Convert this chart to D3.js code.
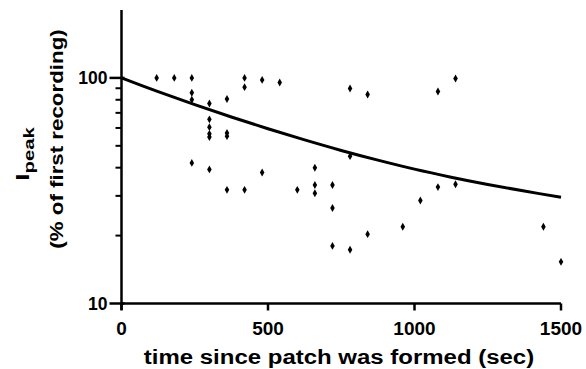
<!DOCTYPE html>
<html>
<head>
<meta charset="utf-8">
<script src="https://cdn.jsdelivr.net/npm/d3@7"></script>
<style>
  html, body { margin: 0; padding: 0; background: #fff; }
  svg { display: block; font-family: "Liberation Sans", Arial, sans-serif; font-weight: bold; }
</style>
</head>
<body>
<svg id="chart" width="586" height="369"></svg>
<script>
// Recordings: time since patch formation (s) and peak current (% of first recording)
const times = [120, 180, 240, 240, 240, 240, 300, 300, 300, 300, 300, 300,
  360, 360, 360, 360, 420, 420, 420, 480, 480, 540, 600, 660, 660, 660,
  720, 720, 720, 780, 780, 780, 840, 840, 960, 1020, 1080, 1080, 1140, 1140,
  1440, 1500];
const ipeak = [100, 100, 100, 86, 80, 42, 77, 65.5, 60.5, 56.5, 54.7, 39.3,
  80.6, 57, 55.2, 31.9, 100, 91, 31.9, 98, 38.1, 95.4, 31.9, 40, 33.5, 30.8,
  33.5, 26.5, 18, 89.7, 45, 17.3, 84.4, 20.3, 21.9, 28.6, 87, 32.8, 99.4, 33.8,
  21.9, 15.3];

// Fitted decay curve, sampled along the time axis
const fitTimes = [0, 125, 250, 375, 500, 625, 750, 875, 1000, 1125, 1250, 1375, 1500];
const fitValues = [100, 87, 76.2, 67.1, 59.5, 53.1, 47.7, 43.2, 39.4, 36.3, 33.7, 31.5, 29.6];

// Axis ticks
const xTicks = [0, 500, 1000, 1500];
const yMajorTicks = [10, 100];
const yMinorTicks = [20, 30, 40, 50, 60, 70, 80, 90];

const svg = d3.select("#chart");
const x = d3.scaleLinear().domain([0, 1500]).range([121.5, 561]);
const y = d3.scaleLog().domain([10, 200]).range([303.5, 10]);

// Fitted curve
const line = d3.line()
  .x((d, i) => x(fitTimes[i]))
  .y(d => y(d))
  .curve(d3.curveCatmullRom);
svg.append("path")
  .datum(fitValues)
  .attr("d", line)
  .attr("fill", "none")
  .attr("stroke", "#000")
  .attr("stroke-width", 3);

// Data points
svg.append("g").selectAll("path")
  .data(times.map((t, i) => [t, ipeak[i]]))
  .join("path")
  .attr("transform", d => `translate(${x(d[0])},${y(d[1])})`)
  .attr("d", d3.symbol(d3.symbolDiamond, 18))
  .attr("fill", "#000");

// Y axis with major and minor ticks
const yAxisG = svg.append("g").attr("transform", `translate(${x(0)},0)`);
yAxisG.append("line")
  .attr("y1", 10).attr("y2", 310)
  .attr("stroke", "#000").attr("stroke-width", 2.5);
yAxisG.selectAll(".minor").data(yMinorTicks).join("line")
  .attr("x1", -6).attr("x2", 0)
  .attr("y1", d => y(d)).attr("y2", d => y(d))
  .attr("stroke", "#000").attr("stroke-width", 2);
yAxisG.selectAll(".major").data(yMajorTicks).join("line")
  .attr("x1", -12).attr("x2", 3)
  .attr("y1", d => y(d)).attr("y2", d => y(d))
  .attr("stroke", "#000").attr("stroke-width", 2.5);
yAxisG.selectAll("text").data(yMajorTicks).join("text")
  .attr("x", -14)
  .attr("y", d => y(d))
  .attr("dy", "0.36em")
  .attr("text-anchor", "end")
  .attr("font-size", 17.5)
  .text(d => d);

// X axis
const xAxisG = svg.append("g").attr("transform", `translate(0,${y(10)})`);
xAxisG.append("line")
  .attr("x1", x(0)).attr("x2", x(1500))
  .attr("stroke", "#000").attr("stroke-width", 2.5);
xAxisG.selectAll(".tick").data(xTicks).join("line")
  .attr("x1", d => x(d)).attr("x2", d => x(d))
  .attr("y1", 0).attr("y2", 7)
  .attr("stroke", "#000").attr("stroke-width", 2.5);
xAxisG.selectAll("text").data(xTicks).join("text")
  .attr("x", d => x(d))
  .attr("y", 31)
  .attr("text-anchor", "middle")
  .attr("font-size", 19)
  .text(d => d);

// Axis titles (set in a wide, stretched face)
svg.append("text")
  .attr("transform", "translate(339,364) scale(1.23,1)")
  .attr("text-anchor", "middle")
  .attr("font-size", 19.5)
  .text("time since patch was formed (sec)");

const t1 = svg.append("text")
  .attr("transform", "translate(29,154) rotate(-90) scale(1.45,1)")
  .attr("text-anchor", "middle")
  .attr("font-size", 18);
t1.append("tspan").text("I");
t1.append("tspan").attr("dy", 5).attr("font-size", 14).text("peak");

svg.append("text")
  .attr("transform", "translate(63,139) rotate(-90) scale(1.24,1)")
  .attr("text-anchor", "middle")
  .attr("font-size", 18)
  .text("(% of first recording)");
</script>
</body>
</html>
